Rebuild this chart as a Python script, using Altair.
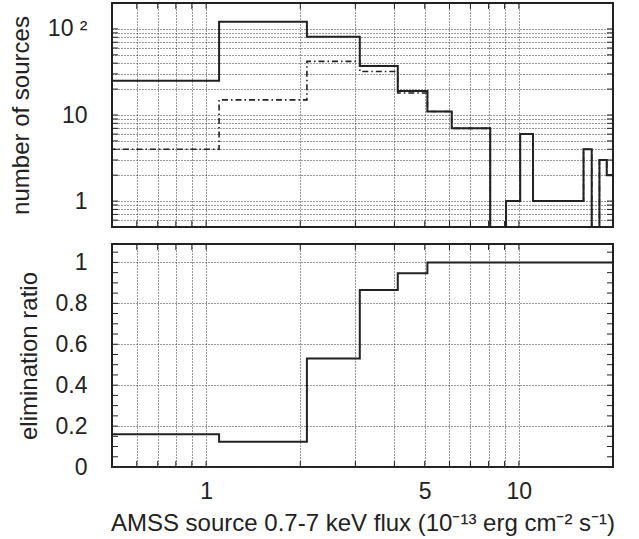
import altair as alt
import pandas as pd

# ---------------- data ----------------
bin_left = [0.1, 1.1, 2.1, 3.1, 4.1, 5.1, 6.1, 7.1, 8.1, 9.1,
            10.1, 11.1, 12.1, 13.1, 14.1, 15.1, 16.1, 17.1, 18.1, 19.1]
bin_end = 20.1
total_counts = [25, 121, 81, 37, 19, 11, 7, 7, 0, 1,
                6, 1, 1, 1, 1, 1, 4, 0, 3, 2]
eliminated_counts = [4, 15, 42, 32, 18, 11, 7, 7, 0, 1,
                     6, 1, 1, 1, 1, 1, 4, 0, 3, 2]
elim_ratio = [0.16, 0.124, 0.53, 0.865, 0.947, 1, 1, 1, 1, 1,
              1, 1, 1, 1, 1, 1, 1, 1, 1, 1]

# axis tick / grid values
x_grid = [0.6, 0.7, 0.8, 0.9, 1, 2, 3, 4, 5, 6, 7, 8, 9, 10]
y_top_grid = [0.6, 0.7, 0.8, 0.9, 1, 2, 3, 4, 5, 6, 7, 8, 9,
              10, 20, 30, 40, 50, 60, 70, 80, 90, 100]
y_bot_grid = [0, 0.2, 0.4, 0.6, 0.8, 1]
y_bot_minor = [0.05, 0.1, 0.15, 0.2, 0.25, 0.3, 0.35, 0.4, 0.45, 0.5,
               0.55, 0.6, 0.65, 0.7, 0.75, 0.8, 0.85, 0.9, 0.95, 1.0, 1.05]

W = 501
H_TOP = 224
H_BOT = 223
INK = "#222222"
FONT = "Liberation Sans"


def steps(values, series, log=False):
    rows = []
    for x, v in zip(bin_left + [bin_end], values + [values[-1]]):
        shown = v if (v > 0 or not log) else 1e-3
        rows.append({"flux": x, "value": v, "shown": shown, "series": series})
    return pd.DataFrame(rows)


top_total = steps(total_counts, "all", log=True)
top_elim = steps(eliminated_counts, "eliminated", log=True)
bot_ratio = steps(elim_ratio, "ratio")

x_scale = alt.Scale(type="log", domain=[0.5, 20], nice=False)
y_top_scale = alt.Scale(type="log", domain=[0.5, 200], nice=False)
y_bot_scale = alt.Scale(type="linear", domain=[0, 1.09], nice=False)

grid_style = dict(grid=True, gridColor="#333333", gridDash=[1, 2], gridWidth=1,
                  ticks=False, domain=False)

x_axis_top = alt.Axis(values=x_grid, labels=False, title=None, **grid_style)
x_axis_bot = alt.Axis(
    values=x_grid,
    labelExpr="(datum.value == 1 || datum.value == 5 || datum.value == 10) ? datum.value + '' : ''",
    labelOverlap=False, labelFlush=False, labelPadding=13,
    title="AMSS source 0.7-7 keV flux (10⁻¹³ erg cm⁻² s⁻¹)",
    titlePadding=8,
    **grid_style,
)
y_axis_top = alt.Axis(
    values=y_top_grid,
    labelExpr="datum.value == 100 ? '10 ²' : (datum.value == 10 ? '10' : (datum.value == 1 ? '1' : ''))",
    labelOverlap=False, labelPadding=25,
    title="number of sources", titlePadding=14,
    **grid_style,
)
y_axis_bot = alt.Axis(
    values=y_bot_grid, format="~g",
    labelOverlap=False, labelPadding=25,
    title="elimination ratio", titlePadding=14,
    **grid_style,
)


def y_ticks(vals, yscale, yaxis):
    df = pd.DataFrame({"v": vals})
    base = alt.Chart(df).mark_rule(color=INK, strokeWidth=1)
    left = base.encode(y=alt.Y("v:Q", scale=yscale, axis=yaxis),
                       x=alt.value(0), x2=alt.value(6))
    right = base.encode(y=alt.Y("v:Q", scale=yscale, axis=yaxis),
                        x=alt.value(W - 6), x2=alt.value(W))
    return [left, right]


def x_ticks(h, xaxis):
    df = pd.DataFrame({"v": x_grid})
    base = alt.Chart(df).mark_rule(color=INK, strokeWidth=1)
    bottom = base.encode(x=alt.X("v:Q", scale=x_scale, axis=xaxis),
                         y=alt.value(h), y2=alt.value(h - 6))
    top = base.encode(x=alt.X("v:Q", scale=x_scale, axis=xaxis),
                      y=alt.value(0), y2=alt.value(6))
    return [bottom, top]


elim_line = alt.Chart(top_elim).mark_line(
    interpolate="step-after", color=INK, strokeWidth=1.6,
    strokeDash=[6, 3, 1.5, 3], clip=True,
).encode(
    x=alt.X("flux:Q", scale=x_scale, axis=x_axis_top),
    y=alt.Y("shown:Q", scale=y_top_scale, axis=y_axis_top),
)
total_line = alt.Chart(top_total).mark_line(
    interpolate="step-after", color=INK, strokeWidth=2, clip=True,
).encode(
    x=alt.X("flux:Q", scale=x_scale, axis=x_axis_top),
    y=alt.Y("shown:Q", scale=y_top_scale, axis=y_axis_top),
)

top = alt.layer(
    elim_line, total_line,
    *y_ticks(y_top_grid, y_top_scale, y_axis_top),
    *x_ticks(H_TOP, x_axis_top),
).properties(width=W, height=H_TOP)

ratio_line = alt.Chart(bot_ratio).mark_line(
    interpolate="step-after", color=INK, strokeWidth=2, clip=True,
).encode(
    x=alt.X("flux:Q", scale=x_scale, axis=x_axis_bot),
    y=alt.Y("shown:Q", scale=y_bot_scale, axis=y_axis_bot),
)

bottom = alt.layer(
    ratio_line,
    *y_ticks(y_bot_minor, y_bot_scale, y_axis_bot),
    *x_ticks(H_BOT, x_axis_bot),
).properties(width=W, height=H_BOT)

chart = alt.vconcat(top, bottom, spacing=8).properties(
    padding={"left": 8, "top": 1, "right": 20, "bottom": 4},
    background="white",
).configure_view(
    stroke=INK, strokeWidth=2,
).configure_axis(
    labelFont=FONT, titleFont=FONT,
    labelFontSize=23, titleFontSize=24,
    labelColor=INK, titleColor=INK,
    titleFontWeight="normal",
)

chart.save("out.html", embed_options={"renderer": "svg", "actions": False})
